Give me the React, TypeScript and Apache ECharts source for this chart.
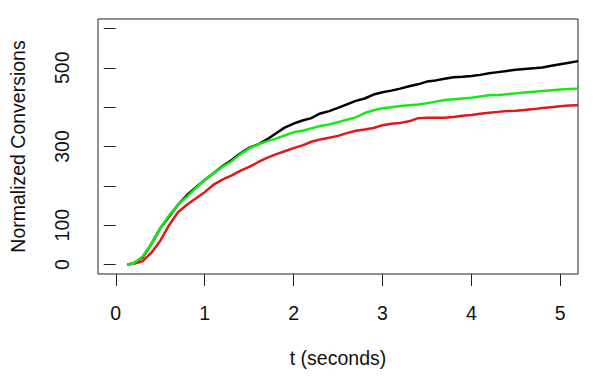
import React, { useEffect, useRef } from "react";
import * as echarts from "echarts";

const tValues = [0.13, 0.2, 0.3, 0.4, 0.5, 0.6, 0.7, 0.8, 0.9, 1.0, 1.1, 1.2, 1.3, 1.4, 1.5, 1.6, 1.7, 1.8, 1.9, 2.0, 2.1, 2.2, 2.3, 2.4, 2.5, 2.6, 2.7, 2.8, 2.9, 3.0, 3.1, 3.2, 3.3, 3.4, 3.5, 3.6, 3.7, 3.8, 3.9, 4.0, 4.1, 4.2, 4.3, 4.4, 4.5, 4.6, 4.7, 4.8, 4.9, 5.0, 5.1, 5.2];

const blackValues = [0, 3, 18, 52, 92, 122, 152, 176, 196, 215, 232, 250, 265, 282, 297, 305, 318, 333, 348, 358, 366, 372, 384, 390, 398, 407, 416, 422, 432, 438, 442, 447, 453, 458, 465, 468, 472, 476, 477, 479, 482, 486, 489, 492, 495, 497, 499, 501, 505, 509, 513, 517];

const greenValues = [0, 3, 20, 52, 92, 125, 152, 172, 194, 215, 232, 248, 262, 280, 295, 305, 313, 320, 328, 336, 340, 346, 352, 356, 362, 368, 374, 385, 392, 397, 400, 403, 405, 407, 410, 414, 418, 420, 422, 424, 427, 430, 431, 433, 435, 437, 439, 441, 443, 445, 446, 447];

const redValues = [0, 2, 8, 30, 60, 100, 133, 152, 168, 184, 203, 216, 226, 238, 248, 260, 271, 280, 288, 296, 303, 312, 318, 322, 327, 334, 340, 343, 347, 354, 358, 360, 364, 372, 373, 373, 373, 375, 378, 380, 383, 386, 388, 390, 391, 393, 395, 398, 400, 402, 404, 405];

const xTicks = [0, 1, 2, 3, 4, 5];
const yTicks = [0, 100, 200, 300, 400, 500, 600];
const yLabels = [0, 100, 300, 500];

const FONT = "'Liberation Sans', Arial, Helvetica, sans-serif";

export default function App() {
  const ref = useRef<HTMLDivElement>(null);
  useEffect(() => {
    if (!ref.current) return;
    const chart = echarts.init(ref.current, null, { renderer: "svg" });
    const pair = (ys: number[]) => tValues.map((t, i) => [t, ys[i]]);
    chart.setOption({
      animation: false,
      backgroundColor: "#fff",
      grid: {
        left: 97,
        right: 22,
        top: 19,
        bottom: 104,
        show: true,
        borderColor: "#222",
        borderWidth: 1,
        backgroundColor: "transparent",
      },
      xAxis: {
        type: "value",
        min: -0.2,
        max: 5.2,
        name: "t (seconds)",
        nameLocation: "middle",
        nameGap: 74,
        nameTextStyle: { fontFamily: FONT, fontSize: 19.5, color: "#111" },
        axisLine: { show: false, onZero: false },
        splitLine: { show: false },
        axisTick: {
          show: true,
          inside: false,
          length: 12,
          customValues: xTicks,
          lineStyle: { color: "#222", width: 1 },
        },
        axisLabel: {
          customValues: xTicks,
          margin: 29,
          fontFamily: FONT,
          fontSize: 19.5,
          color: "#111",
        },
      },
      yAxis: {
        type: "value",
        min: -24,
        max: 624,
        name: "Normalized Conversions",
        nameLocation: "middle",
        nameGap: 70,
        nameTextStyle: { fontFamily: FONT, fontSize: 19.5, color: "#111" },
        axisLine: { show: false },
        splitLine: { show: false },
        axisTick: {
          show: true,
          inside: false,
          length: 12,
          customValues: yTicks,
          lineStyle: { color: "#222", width: 1 },
        },
        axisLabel: {
          customValues: yLabels,
          rotate: 90,
          margin: 26,
          fontFamily: FONT,
          fontSize: 19.5,
          color: "#111",
        },
      },
      series: [
        {
          type: "line",
          data: pair(blackValues),
          showSymbol: false,
          lineStyle: { color: "#000", width: 2.5 },
        },
        {
          type: "line",
          data: pair(redValues),
          showSymbol: false,
          lineStyle: { color: "#e01818", width: 2.5 },
        },
        {
          type: "line",
          data: pair(greenValues),
          showSymbol: false,
          lineStyle: { color: "#18e818", width: 2.5 },
        },
      ],
    });
    return () => chart.dispose();
  }, []);
  return <div ref={ref} style={{ width: 600, height: 378, position: "absolute", left: 0, top: 0 }} />;
}
